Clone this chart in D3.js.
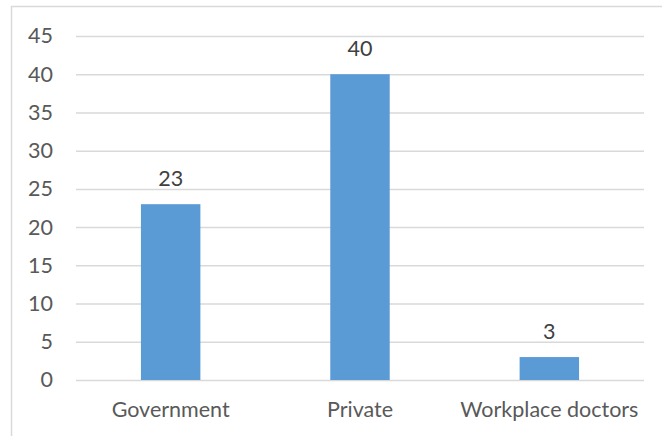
<!DOCTYPE html>
<html>
<head>
<meta charset="utf-8">
<script src="https://cdn.jsdelivr.net/npm/d3@7"></script>
<style>
  html, body { margin: 0; padding: 0; background: #fff; }
  svg { display: block; }
  text { font-family: Lato, "Open Sans", sans-serif; }
</style>
</head>
<body>
<svg id="chart" width="662" height="436"></svg>
<script>
// Number of doctors by sector
const categories = ["Government", "Private", "Workplace doctors"];
const values = [23, 40, 3];
const yTicks = [0, 5, 10, 15, 20, 25, 30, 35, 40, 45];

const width = 662, height = 436;
const plot = { left: 76, right: 644, top: 36, bottom: 380 };
const fontSize = 21.5;

const svg = d3.select("#chart");

// outer frame of the chart area
svg.append("rect")
  .attr("x", 11.5).attr("y", 6.5)
  .attr("width", width + 10).attr("height", height + 10)
  .attr("fill", "none").attr("stroke", "#d9d9d9").attr("stroke-width", 1.5);

const x = d3.scaleBand()
  .domain(categories)
  .range([plot.left, plot.right])
  .paddingInner(0.686)
  .paddingOuter(0.343);

const y = d3.scaleLinear()
  .domain([0, 45])
  .range([plot.bottom, plot.top]);

// horizontal gridlines with tick labels on the left
const yAxis = d3.axisLeft(y)
  .tickValues(yTicks)
  .tickSize(-(plot.right - plot.left))
  .tickPadding(23);

const gy = svg.append("g")
  .attr("transform", `translate(${plot.left},0)`)
  .call(yAxis);
gy.select(".domain").remove();
gy.selectAll(".tick line")
  .attr("stroke", "#d9d9d9").attr("stroke-width", 1.5);
gy.selectAll(".tick text")
  .attr("fill", "#595959")
  .attr("font-size", fontSize);

// category labels below the baseline
const xAxis = d3.axisBottom(x).tickSize(0).tickPadding(22);
const gx = svg.append("g")
  .attr("transform", `translate(0,${plot.bottom})`)
  .call(xAxis);
gx.select(".domain").remove();
gx.selectAll(".tick text")
  .attr("fill", "#595959")
  .attr("font-size", fontSize);

// bars
svg.append("g").selectAll("rect")
  .data(values)
  .join("rect")
  .attr("x", (d, i) => x(categories[i]))
  .attr("y", d => y(d))
  .attr("width", x.bandwidth())
  .attr("height", d => y(0) - y(d))
  .attr("fill", "#5b9bd5");

// value labels above bars
svg.append("g").selectAll("text")
  .data(values)
  .join("text")
  .attr("x", (d, i) => x(categories[i]) + x.bandwidth() / 2)
  .attr("y", d => y(d) - 18)
  .attr("text-anchor", "middle")
  .attr("fill", "#404040")
  .attr("font-size", fontSize)
  .text(d => d);
</script>
</body>
</html>
